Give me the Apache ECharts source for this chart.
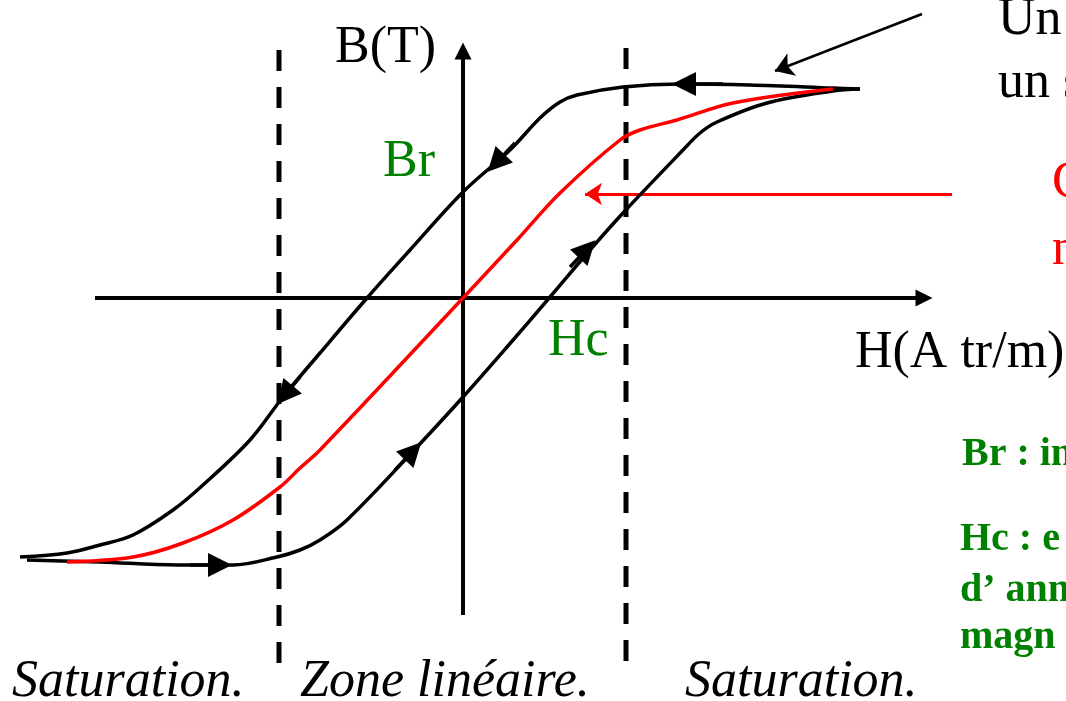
<!DOCTYPE html>
<html>
<head>
<meta charset="utf-8">
<script src="https://cdn.jsdelivr.net/npm/echarts@6/dist/echarts.min.js"></script>
<style>
  html, body { margin: 0; padding: 0; background: #fff; }
  #chart { width: 1066px; height: 701px; }
</style>
</head>
<body>
<div id="chart"></div>
<script>
// H in (A tr/m)/10 px, B in T/10 px, origin where the two axes cross
const descendingBranch = [
  [39.7, 20.9], [37.0, 21.0], [28.7, 21.3], [21.7, 21.4], [16.0, 21.1], [11.4, 20.3],
  [9.7, 19.6], [7.7, 18.0], [4.7, 14.8], [0, 10.6], [-5.3, 4.8],
  [-9.6, 0], [-14.3, -5.5], [-18.0, -9.9], [-21.3, -14.2], [-26.0, -18.7],
  [-29.0, -21.2], [-33.0, -23.7], [-36.3, -24.7], [-39.6, -25.5], [-44.3, -25.9],
];
const ascendingBranch = [
  [-43.6, -26.2], [-36.3, -26.4], [-28.6, -26.7], [-23.0, -26.7], [-18.6, -25.9],
  [-16.3, -25.2], [-14.3, -24.2], [-11.6, -22.2], [-4.6, -14.9], [0, -9.9],
  [4.4, -4.9], [8.7, 0.1], [12.7, 4.8], [16.0, 8.5], [22.0, 14.8], [23.7, 16.5],
  [25.4, 17.6], [30.4, 19.5], [37.0, 20.7], [39.7, 20.9],
];
const firstMagnetization = [
  [-39.6, -26.4], [-33.0, -25.9], [-28.0, -24.5], [-23.0, -22.2], [-18.3, -18.9],
  [-16.3, -17.0], [-14.3, -15.2], [0, 0], [5.4, 5.8], [9.7, 10.5],
  [15.7, 15.8], [17.7, 16.8], [21.4, 17.8], [27.0, 19.5], [37.0, 20.9],
];
// direction arrows drawn on the loop: [from, to]
const loopArrows = [
  [[26.0, 21.4], [22.1, 21.4]],
  [[5.2, 15.5], [3.3, 13.5]],
  [[-16.3, -7.9], [-17.8, -9.7]],
  [[-27.3, -26.7], [-24.3, -26.7]],
  [[-6.8, -17.2], [-5.0, -15.3]],
  [[10.7, 3.1], [12.4, 4.9]],
];
const hAxisLine = [[-36.8, 0], [46.1, 0]];
const bAxisLine = [[0, -31.7], [0, 24.7]];
const leftLimit = [[-18.4, 24.8], [-18.4, -37.2]];
const rightLimit = [[16.3, 25.0], [16.3, -36.9]];
const blackPointer = [[45.9, 28.4], [31.2, 22.7]];
const redPointer = [[48.9, 10.4], [12.2, 10.4]];

const serif = '"Liberation Serif", "DejaVu Serif", serif';

function label(text, x, y, opts) {
  return {
    type: 'text',
    left: x,
    top: y,
    style: Object.assign({
      text: text,
      fill: '#000',
      font: '52px ' + serif,
    }, opts || {}),
  };
}

const greenBold = { fill: '#008000', font: 'bold 40px ' + serif };
const italic = { font: 'italic 52px ' + serif };

const chart = echarts.init(document.getElementById('chart'));
chart.setOption({
  animation: false,
  grid: { left: 0, right: 0, top: 0, bottom: 0 },
  xAxis: { type: 'value', min: -46.3, max: 60.3, show: false },
  yAxis: { type: 'value', min: -40.3, max: 29.8, show: false },
  series: [
    {
      type: 'line', data: leftLimit, symbol: 'none',
      lineStyle: { color: '#000', width: 5, type: [21, 16] },
    },
    {
      type: 'line', data: rightLimit, symbol: 'none',
      lineStyle: { color: '#000', width: 5, type: [21, 16] },
    },
    {
      type: 'lines', coordinateSystem: 'cartesian2d',
      symbol: ['none', 'triangle'], symbolSize: [15, 17],
      lineStyle: { color: '#000', width: 4, opacity: 1 },
      data: [{ coords: hAxisLine }, { coords: bAxisLine }],
    },
    {
      type: 'line', data: descendingBranch, symbol: 'none', smooth: 0.35,
      lineStyle: { color: '#000', width: 3.5 },
    },
    {
      type: 'line', data: ascendingBranch, symbol: 'none', smooth: 0.35,
      lineStyle: { color: '#000', width: 3.5 },
    },
    {
      type: 'line', data: firstMagnetization, symbol: 'none', smooth: 0.35,
      lineStyle: { color: '#ff0000', width: 3.5 },
    },
    {
      type: 'lines', coordinateSystem: 'cartesian2d',
      symbol: ['none', 'triangle'], symbolSize: [22, 24],
      lineStyle: { color: '#000', width: 3.5, opacity: 1 },
      data: loopArrows.map((c) => ({ coords: c })),
    },
    {
      type: 'lines', coordinateSystem: 'cartesian2d',
      symbol: ['none', 'arrow'], symbolSize: [14, 18],
      lineStyle: { color: '#000', width: 2.5, opacity: 1 },
      data: [{ coords: blackPointer }],
    },
    {
      type: 'lines', coordinateSystem: 'cartesian2d',
      symbol: ['none', 'arrow'], symbolSize: [15, 17],
      lineStyle: { color: '#ff0000', width: 3, opacity: 1 },
      data: [{ coords: redPointer }],
    },
  ],
  graphic: [
    label('B(T)', 335, 22),
    label('Br', 383, 136, { fill: '#008000' }),
    label('Hc', 548, 315, { fill: '#008000' }),
    label('H(A tr/m)', 855, 327),
    label('Un', 998, -6),
    label('un s', 998, 57),
    label('C', 1052, 157, { fill: '#ff0000' }),
    label('n', 1052, 224, { fill: '#ff0000' }),
    label('Br : in', 962, 435, greenBold),
    label('Hc : e', 960, 520, greenBold),
    label('d\u2019 ann', 960, 571, greenBold),
    label('magn', 960, 618, greenBold),
    label('Saturation.', 12, 656, italic),
    label('Zone lin\u00e9aire.', 300, 656, italic),
    label('Saturation.', 685, 656, italic),
  ],
});
</script>
</body>
</html>
